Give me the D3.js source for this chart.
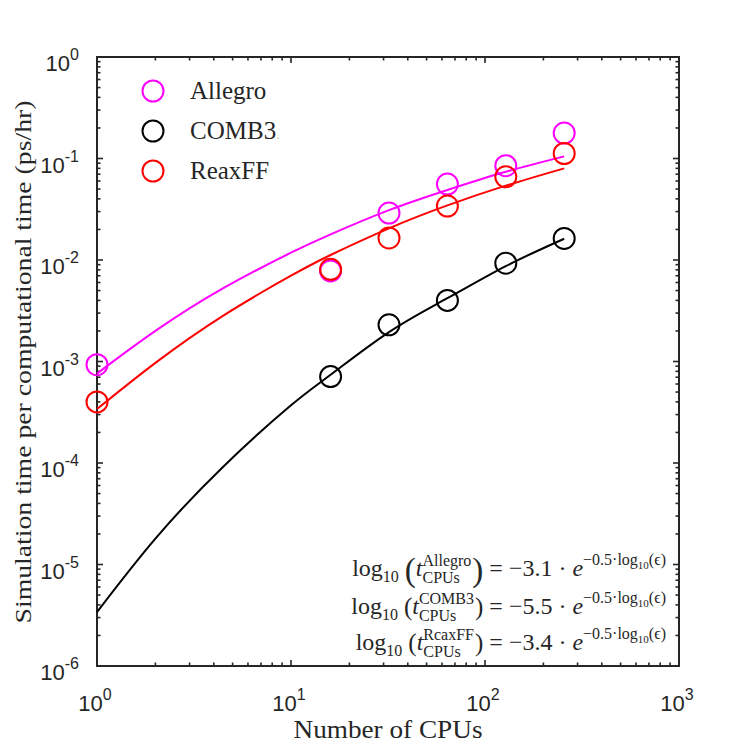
<!DOCTYPE html>
<html>
<head>
<meta charset="utf-8">
<script src="https://d3js.org/d3.v7.min.js"></script>
<style>
  body { margin: 0; background: #fff; }
  svg { display: block; }
  .tick-lab { font-family: "Liberation Sans", Arial, sans-serif; fill: #262626; }
  .serif { font-family: "Liberation Serif", "DejaVu Serif", serif; fill: #262626; white-space: pre; }
</style>
</head>
<body>
<svg id="chart"></svg>
<script>
// measured points (CPUs vs. ps/hr)
const cpus = [1, 16, 32, 64, 128, 256];
const comb3Cpus = [16, 32, 64, 128, 256];
const allegroTimes = [9.3e-4, 7.8e-3, 0.029, 0.056, 0.085, 0.178];
const comb3Times = [7.1e-4, 0.0023, 0.0040, 0.0093, 0.0163];
const reaxffTimes = [4.0e-4, 8.1e-3, 0.0165, 0.034, 0.066, 0.112];

// fitted curves
const fitCpus = [1, 2, 4.5, 10, 16, 32, 64, 128, 256];
const allegroFit = [7.6e-4, 2.0e-3, 5.3e-3, 0.0118, 0.0179, 0.031, 0.049, 0.074, 0.105];
const comb3Fit = [3.4e-6, 1.8e-5, 9.3e-5, 3.7e-4, 7.4e-4, 1.95e-3, 4.2e-3, 8.7e-3, 0.0162];
const reaxffFit = [3.4e-4, 9.7e-4, 2.85e-3, 7.0e-3, 0.0112, 0.0205, 0.0345, 0.054, 0.080];

const seriesNames = ["Allegro", "COMB3", "ReaxFF"];
const seriesColors = ["#ff00ff", "#000000", "#ff0000"];
const xTicks = [1, 10, 100, 1000];
const yTicks = [1e-6, 1e-5, 1e-4, 1e-3, 1e-2, 1e-1, 1];

const W = 750, H = 750;
const svg = d3.select("#chart").attr("width", W).attr("height", H);

const x = d3.scaleLog().domain([1, 1000]).range([97, 679]);
const y = d3.scaleLog().domain([1e-6, 1]).range([666, 57]);

// minor tick values
function minors(lo, hi) {
  const out = [];
  for (let e = Math.log10(lo); e < Math.log10(hi); e++) {
    for (let k = 2; k <= 9; k++) out.push(k * Math.pow(10, e));
  }
  return out;
}
const xMinor = minors(1, 1000), yMinor = minors(1e-6, 1);

const axisG = svg.append("g").attr("stroke", "#262626").attr("stroke-width", 1.6);
// inward ticks on all four sides
function drawTicks(vals, len) {
  vals.forEach(v => {
    const px = x(v);
    axisG.append("line").attr("x1", px).attr("x2", px).attr("y1", 666).attr("y2", 666 - len);
    axisG.append("line").attr("x1", px).attr("x2", px).attr("y1", 57).attr("y2", 57 + len);
  });
}
function drawYTicks(vals, len) {
  vals.forEach(v => {
    const py = y(v);
    axisG.append("line").attr("x1", 97).attr("x2", 97 + len).attr("y1", py).attr("y2", py);
    axisG.append("line").attr("x1", 679).attr("x2", 679 - len).attr("y1", py).attr("y2", py);
  });
}
drawTicks(xTicks, 6);
drawTicks(xMinor, 3.5);
drawYTicks(yTicks, 6);
drawYTicks(yMinor, 3.5);
axisG.append("rect").attr("x", 97).attr("y", 57).attr("width", 582).attr("height", 609)
  .attr("fill", "none").attr("stroke-width", 2);

// tick labels 10^n
xTicks.forEach(v => {
  const t = svg.append("text").attr("class", "tick-lab").attr("x", x(v) - 2).attr("y", 711)
    .attr("text-anchor", "middle").style("font-size", "22px");
  t.append("tspan").text("10");
  t.append("tspan").attr("dy", -11).style("font-size", "16px").text(Math.round(Math.log10(v)));
});
yTicks.forEach(v => {
  const t = svg.append("text").attr("class", "tick-lab").attr("x", 79).attr("y", y(v) + 14)
    .attr("text-anchor", "end").style("font-size", "22px");
  t.append("tspan").text("10");
  t.append("tspan").attr("dy", -11).style("font-size", "16px").text(Math.round(Math.log10(v)));
});

// axis titles
svg.append("text").attr("class", "serif").attr("x", 388).attr("y", 738)
  .attr("text-anchor", "middle").style("font-size", "25px")
  .attr("textLength", 189).attr("lengthAdjust", "spacingAndGlyphs").text("Number of CPUs");
svg.append("text").attr("class", "serif")
  .attr("transform", "translate(31,362) rotate(-90)")
  .attr("text-anchor", "middle").style("font-size", "24px")
  .attr("textLength", 523).attr("lengthAdjust", "spacingAndGlyphs")
  .text("Simulation time per computational time (ps/hr)");

// fits
const line = d3.line().x(d => x(d[0])).y(d => y(d[1])).curve(d3.curveNatural);
const fits = [allegroFit, comb3Fit, reaxffFit];
fits.forEach((f, i) => {
  svg.append("path").datum(fitCpus.map((c, j) => [c, f[j]]))
    .attr("d", line).attr("fill", "none")
    .attr("stroke", seriesColors[i]).attr("stroke-width", 2);
});

// markers
const pts = [
  cpus.map((c, j) => [c, allegroTimes[j]]),
  comb3Cpus.map((c, j) => [c, comb3Times[j]]),
  cpus.map((c, j) => [c, reaxffTimes[j]])
];
pts.forEach((p, i) => {
  svg.append("g").selectAll("circle").data(p).join("circle")
    .attr("cx", d => x(d[0])).attr("cy", d => y(d[1])).attr("r", 10.5)
    .attr("fill", "none").attr("stroke", seriesColors[i]).attr("stroke-width", 2);
});

// legend
const leg = svg.append("g");
seriesNames.forEach((n, i) => {
  const ly = 91 + i * 40;
  leg.append("circle").attr("cx", 153).attr("cy", ly).attr("r", 10.5)
    .attr("fill", "none").attr("stroke", seriesColors[i]).attr("stroke-width", 2);
  const t = leg.append("text").attr("class", "serif").attr("x", 190).attr("y", ly + 8)
    .style("font-size", "25px").text(n);
  if (i === 1) t.append("tspan").attr("fill", "#c8c8c8").style("font-size", "14px").text(".");
});

// fit equations
const eqs = [
  { sup: "Allegro", coef: "3.1", big: true, baseY: 576 },
  { sup: "COMB3", coef: "5.5", big: false, baseY: 614 },
  { sup: "RcaxFF", coef: "3.4", big: false, baseY: 650 }
];
eqs.forEach(eq => {
  const g = svg.append("g");
  let cx = 0;
  function put(str, size, dy, italic) {
    const t = g.append("text").attr("class", "serif").attr("x", cx).attr("y", dy)
      .style("font-size", size + "px").text(str);
    if (italic) t.style("font-style", "italic");
    cx += t.node().getComputedTextLength();
    return t;
  }
  put("log", 24, 0);
  put("10", 16, 6);
  cx += 6;
  const ps = eq.big ? 33 : 25;
  put("(", ps, eq.big ? 5 : 1);
  put("t", 24, 0, true);
  const x0 = cx;
  put(eq.sup, 16, -10);
  const w1 = cx - x0;
  cx = x0;
  put("CPUs", 16, 7);
  const w2 = cx - x0;
  cx = x0 + Math.max(w1, w2) + 1;
  put(")", ps, eq.big ? 5 : 1);
  put(" = \u2212" + eq.coef + " \u00b7 ", 24, 0);
  put("e", 24, 0, true);
  put("\u22120.5\u00b7log", 16, -11);
  put("10", 11, -7);
  put("(\u03f5)", 16, -11);
  g.attr("transform", `translate(${666 - cx},${eq.baseY})`);
});
</script>
</body>
</html>
